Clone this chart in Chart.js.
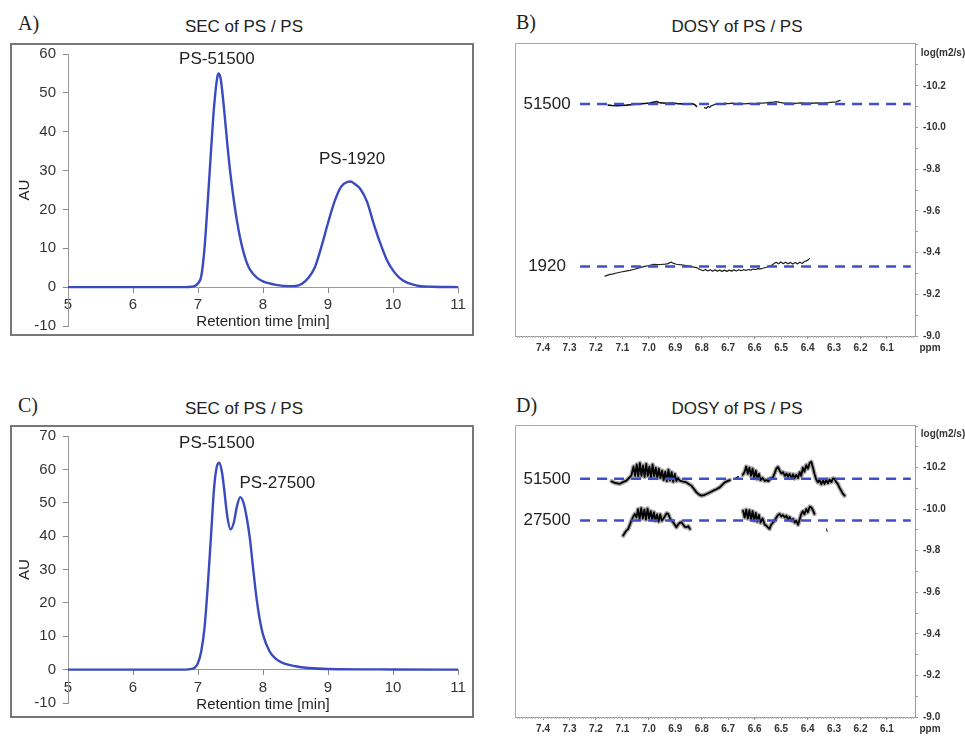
<!DOCTYPE html>
<html>
<head>
<meta charset="utf-8">
<script src="https://cdn.jsdelivr.net/npm/chart.js@4.4.1/dist/chart.umd.min.js"></script>
<style>
  body { margin: 0; background: #fff; width: 965px; height: 736px; position: relative; overflow: hidden;
         font-family: Arial, "Liberation Sans", sans-serif; color: #222; }
  .abs { position: absolute; }
  .letter { font-family: "Times New Roman", "Liberation Serif", serif; font-size: 20px; line-height: 20px; }
  .title { font-size: 17px; line-height: 17px; transform: translateX(-50%); white-space: nowrap; }
  .frame { border: 2px solid #777; box-sizing: border-box; }
  .unit { font-size: 10px; line-height: 10px; font-weight: bold; color: #333; transform: translateX(-50%); white-space: nowrap; }
  canvas { position: absolute; }
</style>
</head>
<body>
<div class="abs letter" style="left:18px;top:13px">A)</div>
<div class="abs letter" style="left:516px;top:12px">B)</div>
<div class="abs letter" style="left:18px;top:395px">C)</div>
<div class="abs letter" style="left:516px;top:395px">D)</div>

<div class="abs title" style="left:244px;top:18px">SEC of PS / PS</div>
<div class="abs title" style="left:737px;top:18px">DOSY of PS / PS</div>
<div class="abs title" style="left:244px;top:400px">SEC of PS / PS</div>
<div class="abs title" style="left:737px;top:400px">DOSY of PS / PS</div>

<div class="abs frame" style="left:10px;top:43px;width:464px;height:293px"></div>
<div class="abs frame" style="left:10px;top:425px;width:464px;height:293px"></div>

<canvas id="secA" width="460" height="289" style="left:12px;top:45px"></canvas>
<canvas id="secC" width="460" height="289" style="left:12px;top:427px"></canvas>
<canvas id="dosyB" width="460" height="320" style="left:505px;top:35px"></canvas>
<canvas id="dosyD" width="460" height="320" style="left:505px;top:417px"></canvas>

<div class="abs unit" style="left:943px;top:48px">log(m2/s)</div>
<div class="abs unit" style="left:943px;top:429px">log(m2/s)</div>
<div class="abs unit" style="left:930px;top:343px">ppm</div>
<div class="abs unit" style="left:930px;top:724px">ppm</div>

<script>
// ---- SEC traces: retention time (min) / detector response (AU) ----
const secATime = [5.0, 6.0, 6.8, 6.9, 6.95, 7.0, 7.05, 7.1, 7.15, 7.2, 7.25, 7.3, 7.32, 7.35, 7.4, 7.45, 7.5, 7.55, 7.6, 7.65,
                  7.7, 7.75, 7.8, 7.9, 8.0, 8.2, 8.4, 8.5, 8.6, 8.7, 8.8, 8.9, 9.0, 9.1, 9.2, 9.3, 9.35, 9.4, 9.5, 9.6,
                  9.7, 9.8, 9.9, 10.0, 10.1, 10.2, 10.3, 10.4, 10.6, 11.0];
const secAAu   = [0, 0, 0, 0.1, 0.3, 1.0, 2.8, 10, 22, 35, 47, 54.3, 55, 53.5, 46, 37, 29, 22.5, 17, 12.5,
                  9, 6.3, 4.5, 2.5, 1.5, 0.6, 0.25, 0.3, 0.9, 2.4, 5.2, 10.5, 16.5, 22, 25.8, 27.1, 27.2, 26.7, 25.2, 22,
                  16.5, 11.5, 7.2, 4.3, 2.4, 1.3, 0.7, 0.3, 0.1, 0];
const secANames = ['PS-51500', 'PS-1920'];

const secCTime = [5.0, 6.0, 6.8, 6.9, 6.95, 7.0, 7.05, 7.1, 7.15, 7.2, 7.25, 7.3, 7.33, 7.37, 7.4, 7.45, 7.5, 7.55, 7.6, 7.65,
                  7.7, 7.75, 7.8, 7.85, 7.9, 7.95, 8.0, 8.1, 8.2, 8.3, 8.5, 8.7, 9.0, 10.0, 11.0];
const secCAu   = [0, 0, 0, 0.2, 0.6, 2, 5.5, 12.5, 25, 40, 55, 61.5, 62, 59, 54.5, 46, 42, 44, 49, 51.7,
                  50, 45.5, 39, 30, 21.5, 15, 10.5, 5.5, 3.2, 2, 1, 0.5, 0.2, 0.05, 0];
const secCNames = ['PS-51500', 'PS-27500'];

// ---- DOSY: [ppm, log D] ----
const ppmTicks = [7.4, 7.3, 7.2, 7.1, 7.0, 6.9, 6.8, 6.7, 6.6, 6.5, 6.4, 6.3, 6.2, 6.1];
const logTicks = [-10.4, -10.3, -10.2, -10.1, -10.0, -9.9, -9.8, -9.7, -9.6, -9.5, -9.4, -9.3, -9.2, -9.1, -9.0];
const logTickLabels = [-10.2, -10.0, -9.8, -9.6, -9.4, -9.2, -9.0];

const dosyBNames = ['51500', '1920'];
const dosyBLevels = [-10.113, -9.333];
const dosyDNames = ['51500', '27500'];
const dosyDLevels = [-10.146, -9.946];
const dashFrom = 7.26, dashTo = 6.01;

const dosyB51500a = [[7.154,-10.107],[7.140,-10.105],[7.122,-10.104],[7.104,-10.106],[7.084,-10.107],[7.060,-10.110],
  [7.034,-10.113],[7.015,-10.115],[6.997,-10.117],[6.984,-10.121],[6.971,-10.124],[6.962,-10.120],[6.952,-10.118],
  [6.930,-10.116],[6.909,-10.117],[6.890,-10.114],[6.871,-10.113],[6.850,-10.114],[6.833,-10.113],[6.825,-10.108],[6.820,-10.101]];
const dosyB51500b = [[6.790,-10.095],[6.783,-10.092],[6.776,-10.100],[6.770,-10.097],[6.764,-10.104],[6.755,-10.108],
  [6.745,-10.113],[6.730,-10.111],[6.715,-10.116],[6.700,-10.114],[6.685,-10.117],[6.670,-10.114],[6.655,-10.117],
  [6.640,-10.113],[6.620,-10.115],[6.600,-10.114],[6.585,-10.117],[6.569,-10.117],[6.550,-10.119],[6.530,-10.121],
  [6.519,-10.124],[6.505,-10.120],[6.490,-10.117],[6.468,-10.117],[6.445,-10.115],[6.425,-10.118],[6.405,-10.117],
  [6.385,-10.116],[6.365,-10.118],[6.343,-10.117],[6.320,-10.119],[6.305,-10.121],[6.292,-10.123],[6.283,-10.127],[6.277,-10.130]];
const dosyB1920 = [[7.166,-9.287],[7.150,-9.294],[7.135,-9.298],[7.122,-9.302],[7.105,-9.307],[7.088,-9.311],[7.072,-9.315],
  [7.055,-9.320],[7.034,-9.328],[7.015,-9.334],[7.000,-9.338],[6.984,-9.343],[6.968,-9.342],[6.952,-9.343],[6.938,-9.345],
  [6.927,-9.347],[6.920,-9.352],[6.915,-9.354],[6.906,-9.348],[6.896,-9.344],[6.877,-9.341],[6.858,-9.338],[6.840,-9.333],
  [6.820,-9.328],[6.812,-9.322],[6.804,-9.318],[6.795,-9.313],[6.786,-9.319],[6.777,-9.312],[6.768,-9.318],[6.759,-9.311],
  [6.750,-9.317],[6.741,-9.311],[6.732,-9.316],[6.723,-9.310],[6.714,-9.316],[6.705,-9.310],[6.696,-9.316],[6.687,-9.311],
  [6.678,-9.317],[6.669,-9.312],[6.660,-9.318],[6.651,-9.313],[6.642,-9.318],[6.633,-9.314],[6.624,-9.319],[6.615,-9.316],
  [6.606,-9.321],[6.597,-9.319],[6.588,-9.323],[6.578,-9.322],[6.569,-9.325],[6.553,-9.331],[6.537,-9.338],[6.528,-9.346],
  [6.519,-9.354],[6.510,-9.346],[6.501,-9.355],[6.492,-9.347],[6.483,-9.354],[6.474,-9.346],[6.465,-9.353],[6.456,-9.345],
  [6.447,-9.352],[6.438,-9.346],[6.429,-9.354],[6.420,-9.348],[6.412,-9.357],[6.405,-9.360],[6.398,-9.365],[6.393,-9.371]];

const dosyD51500a = [[7.141,-10.134],[7.128,-10.126],[7.110,-10.122],[7.098,-10.130],[7.085,-10.137],[7.075,-10.150],
  [7.066,-10.162],[7.058,-10.205],[7.052,-10.160],[7.046,-10.215],[7.040,-10.158],[7.034,-10.222],[7.028,-10.160],
  [7.022,-10.210],[7.016,-10.155],[7.010,-10.218],[7.004,-10.160],[6.998,-10.205],[6.992,-10.150],[6.986,-10.215],
  [6.980,-10.158],[6.974,-10.200],[6.968,-10.150],[6.962,-10.195],[6.956,-10.150],[6.950,-10.185],[6.944,-10.140],
  [6.938,-10.180],[6.932,-10.135],[6.926,-10.190],[6.920,-10.138],[6.914,-10.178],[6.908,-10.132],[6.902,-10.170],
  [6.896,-10.135],[6.890,-10.150],[6.883,-10.137],[6.870,-10.132],[6.858,-10.129],[6.848,-10.120],[6.839,-10.113],
  [6.830,-10.098],[6.820,-10.081],[6.810,-10.070],[6.801,-10.065],[6.792,-10.068],[6.782,-10.073],[6.770,-10.080],
  [6.757,-10.089],[6.745,-10.096],[6.732,-10.105],[6.722,-10.118],[6.713,-10.129],[6.703,-10.135],[6.694,-10.140]];
const dosyD51500b = [[6.672,-10.148],[6.662,-10.156]];
const dosyD51500c = [[6.645,-10.165],[6.638,-10.180],[6.632,-10.205],[6.626,-10.170],[6.620,-10.200],[6.614,-10.160],
  [6.608,-10.195],[6.602,-10.150],[6.596,-10.185],[6.590,-10.145],[6.584,-10.170],[6.578,-10.140],[6.570,-10.150],
  [6.562,-10.136],[6.556,-10.140],[6.548,-10.135],[6.540,-10.148],[6.531,-10.153],[6.524,-10.175],[6.518,-10.195],
  [6.512,-10.203],[6.505,-10.185],[6.499,-10.172],[6.493,-10.178],[6.486,-10.160],[6.480,-10.172],[6.474,-10.155],
  [6.468,-10.170],[6.461,-10.150],[6.455,-10.168],[6.449,-10.148],[6.443,-10.165],[6.436,-10.150],[6.430,-10.178],
  [6.424,-10.160],[6.418,-10.200],[6.412,-10.180],[6.405,-10.212],[6.399,-10.195],[6.392,-10.222],[6.386,-10.228],
  [6.380,-10.200],[6.374,-10.170],[6.368,-10.145],[6.361,-10.129],[6.355,-10.140],[6.348,-10.120],[6.342,-10.138],
  [6.336,-10.122],[6.330,-10.140],[6.323,-10.125],[6.317,-10.142],[6.310,-10.130],[6.304,-10.148],[6.298,-10.146],
  [6.292,-10.130],[6.286,-10.122],[6.280,-10.105],[6.273,-10.089],[6.267,-10.075],[6.260,-10.065]];
const dosyD27500a = [[7.097,-9.873],[7.090,-9.888],[7.084,-9.898],[7.078,-9.905],[7.072,-9.925],[7.066,-9.945],
  [7.060,-9.962],[7.053,-9.977],[7.047,-9.960],[7.041,-10.000],[7.035,-9.952],[7.029,-10.005],[7.023,-9.955],
  [7.017,-9.998],[7.011,-9.950],[7.005,-10.003],[6.999,-9.955],[6.993,-9.990],[6.987,-9.948],[6.981,-9.985],
  [6.975,-9.945],[6.969,-9.975],[6.963,-9.940],[6.957,-9.975],[6.951,-9.945],[6.946,-9.953],[6.940,-9.965],
  [6.933,-9.980],[6.927,-9.977],[6.920,-9.955],[6.914,-9.945],[6.908,-9.937],[6.902,-9.925],[6.896,-9.913],
  [6.890,-9.925],[6.883,-9.935],[6.877,-9.937],[6.870,-9.925],[6.864,-9.915],[6.858,-9.913],[6.851,-9.918],[6.845,-9.905]];
const dosyD27500b = [[6.644,-9.993],[6.638,-9.960],[6.632,-9.998],[6.626,-9.955],[6.620,-9.995],[6.614,-9.950],
  [6.608,-9.990],[6.602,-9.945],[6.596,-9.982],[6.590,-9.940],[6.584,-9.972],[6.578,-9.935],[6.570,-9.955],
  [6.562,-9.925],[6.556,-9.921],[6.550,-9.912],[6.544,-9.905],[6.538,-9.925],[6.531,-9.935],[6.525,-9.945],
  [6.518,-9.960],[6.512,-9.972],[6.506,-9.977],[6.499,-9.965],[6.493,-9.972],[6.486,-9.960],[6.480,-9.969],
  [6.474,-9.950],[6.468,-9.962],[6.461,-9.945],[6.455,-9.953],[6.449,-9.935],[6.443,-9.945],[6.436,-9.925],
  [6.430,-9.950],[6.424,-9.977],[6.418,-9.990],[6.412,-9.975],[6.405,-10.001],[6.399,-9.985],[6.392,-10.012],
  [6.386,-10.009],[6.380,-9.995],[6.374,-9.977]];
const dosyD27500c = [[6.329,-9.905],[6.326,-9.893]];

const FONT = 'Arial, "Liberation Sans", sans-serif';
const SEC_BLUE = '#3a4bbf';
const DASH_BLUE = '#3d50c6';

const zip = (xs, ys) => xs.map((x, i) => ({x: x, y: ys[i]}));
const pairs = arr => arr.map(p => ({x: p[0], y: p[1]}));

// text placed at data coordinates
function textAt(items) {
  return {
    id: 'textAt',
    afterDatasetsDraw(chart) {
      const ctx = chart.ctx, sx = chart.scales.x, sy = chart.scales.y;
      ctx.save();
      ctx.font = '17px ' + FONT;
      ctx.fillStyle = '#222';
      ctx.textAlign = 'center';
      ctx.textBaseline = 'middle';
      items.forEach(it => {
        const px = it.px !== undefined ? it.px(sx) : sx.getPixelForValue(it.x);
        ctx.fillText(it.text, px, sy.getPixelForValue(it.y));
      });
      ctx.restore();
    }
  };
}

function secChart(id, time, au, yMax, pad, labels) {
  return new Chart(document.getElementById(id), {
    type: 'line',
    data: {
      datasets: [{
        data: zip(time, au), borderColor: SEC_BLUE, borderWidth: 2.4, pointRadius: 0,
        cubicInterpolationMode: 'monotone', fill: false
      }]
    },
    options: {
      responsive: false, animation: false, events: [],
      layout: { padding: pad },
      plugins: { legend: { display: false }, tooltip: { enabled: false } },
      scales: {
        x: {
          type: 'linear', min: 5, max: 11, position: { y: 0 },
          ticks: { stepSize: 1, font: { size: 15, family: FONT }, color: '#333', padding: 4, maxRotation: 0 },
          grid: { display: true, drawOnChartArea: false, tickLength: 5, color: '#888' },
          border: { display: true, color: '#999', width: 1 },
          title: { display: true, text: 'Retention time [min]', font: { size: 15, family: FONT }, color: '#222',
                   padding: { top: -5, bottom: 0 } },
          afterFit: s => { s.paddingLeft = 0; s.paddingRight = 0; }
        },
        y: {
          type: 'linear', min: -10, max: yMax, position: 'left',
          ticks: { stepSize: 10, font: { size: 15, family: FONT }, color: '#333', padding: 7 },
          grid: { display: true, drawOnChartArea: false, tickLength: 5, color: '#888' },
          border: { display: true, color: '#999', width: 1 },
          title: { display: true, text: 'AU', font: { size: 15, family: FONT }, color: '#222',
                   padding: { top: 4, bottom: 0 } },
          afterFit: s => { s.width = 56; s.paddingTop = 0; s.paddingBottom = 0; }
        }
      }
    },
    plugins: [textAt(labels)]
  });
}

// frame lines on the left/top of the DOSY plot + fine ppm ticks along the bottom
const dosyFrame = {
  id: 'dosyFrame',
  beforeDatasetsDraw(chart) {
    const ctx = chart.ctx, a = chart.chartArea, sx = chart.scales.x;
    ctx.save();
    ctx.strokeStyle = '#aaa';
    ctx.lineWidth = 1;
    ctx.beginPath();
    ctx.moveTo(a.left + 0.5, a.bottom);
    ctx.lineTo(a.left + 0.5, a.top + 0.5);
    ctx.lineTo(a.right, a.top + 0.5);
    ctx.stroke();
    ctx.strokeStyle = '#b5b5b5';
    ctx.beginPath();
    for (let k = 600; k <= 750; k++) {
      const px = Math.round(sx.getPixelForValue(k / 100)) + 0.5;
      ctx.moveTo(px, a.bottom);
      ctx.lineTo(px, a.bottom + 2);
    }
    ctx.stroke();
    ctx.restore();
  }
};

function dosyChart(id, levels, names, traces, pad, xHeight) {
  const datasets = [];
  levels.forEach(v => datasets.push({
    data: [{x: dashFrom, y: v}, {x: dashTo, y: v}],
    borderColor: DASH_BLUE, borderWidth: 2.5, borderDash: [10, 7], pointRadius: 0
  }));
  traces.forEach(t => datasets.push({
    data: pairs(t.pts), borderColor: t.color, borderWidth: t.width, pointRadius: 0, tension: 0,
    borderJoinStyle: 'round', borderCapStyle: 'round'
  }));
  traces.filter(t => t.halo).forEach(t => datasets.push({
    data: pairs(t.pts), borderColor: 'rgba(60,60,60,0.45)', borderWidth: 4.5, pointRadius: 0, tension: 0,
    borderJoinStyle: 'round', borderCapStyle: 'round'
  }));
  const labels = names.map((n, i) => ({ text: n, y: levels[i], px: sx => sx.getPixelForValue(dashFrom) - 33 }));
  return new Chart(document.getElementById(id), {
    type: 'line',
    data: { datasets: datasets },
    options: {
      responsive: false, animation: false, events: [],
      layout: { padding: pad },
      plugins: { legend: { display: false }, tooltip: { enabled: false } },
      scales: {
        x: {
          type: 'linear', reverse: true, min: 5.994, max: 7.506, position: 'bottom',
          afterBuildTicks: s => { s.ticks = ppmTicks.map(v => ({ value: v })); },
          ticks: { callback: v => v.toFixed(1), font: { size: 10, weight: 'bold', family: FONT }, color: '#333',
                   padding: 3, maxRotation: 0, autoSkip: false },
          grid: { display: true, drawOnChartArea: false, tickLength: 3, color: '#999' },
          border: { display: true, color: '#999', width: 1 },
          afterFit: s => { s.height = xHeight; s.paddingLeft = 0; s.paddingRight = 0; }
        },
        y: {
          type: 'linear', reverse: true, min: -10.405, max: -9.0, position: 'right',
          afterBuildTicks: s => { s.ticks = logTicks.map(v => ({ value: v })); },
          ticks: {
            callback: v => (logTickLabels.some(l => Math.abs(l - v) < 1e-6) ? v.toFixed(1) : ''),
            font: { size: 10, weight: 'bold', family: FONT }, color: '#333', padding: 5, autoSkip: false
          },
          grid: { display: true, drawOnChartArea: false, tickLength: 3, color: '#999' },
          border: { display: true, color: '#999', width: 1 },
          afterFit: s => { s.width = 50; s.paddingTop = 0; s.paddingBottom = 0; }
        }
      }
    },
    plugins: [dosyFrame, textAt(labels)]
  });
}

secChart('secA', secATime, secAAu, 60, { left: 0, right: 14, top: 9, bottom: 8 }, [
  { text: secANames[0], x: 7.29, y: 58.6 },
  { text: secANames[1], x: 9.37, y: 32.9 }
]);
secChart('secC', secCTime, secCAu, 70, { left: 0, right: 14, top: 9, bottom: 13 }, [
  { text: secCNames[0], x: 7.29, y: 67.9 },
  { text: secCNames[1], x: 8.22, y: 55.9 }
]);

dosyChart('dosyB', dosyBLevels, dosyBNames, [
  { pts: dosyB51500a, color: '#111', width: 1.6 },
  { pts: dosyB51500b, color: '#222', width: 1.3 },
  { pts: dosyB1920, color: '#222', width: 1.2 }
], { left: 10, right: 0, top: 8, bottom: 0 }, 19);

dosyChart('dosyD', dosyDLevels, dosyDNames, [
  { pts: dosyD51500a, color: '#000', width: 1.8, halo: true },
  { pts: dosyD51500b, color: '#000', width: 1.5, halo: false },
  { pts: dosyD51500c, color: '#000', width: 1.8, halo: true },
  { pts: dosyD27500a, color: '#000', width: 1.8, halo: true },
  { pts: dosyD27500b, color: '#000', width: 1.8, halo: true },
  { pts: dosyD27500c, color: '#333', width: 1.2, halo: false }
], { left: 10, right: 0, top: 8, bottom: 0 }, 20);
</script>
</body>
</html>
